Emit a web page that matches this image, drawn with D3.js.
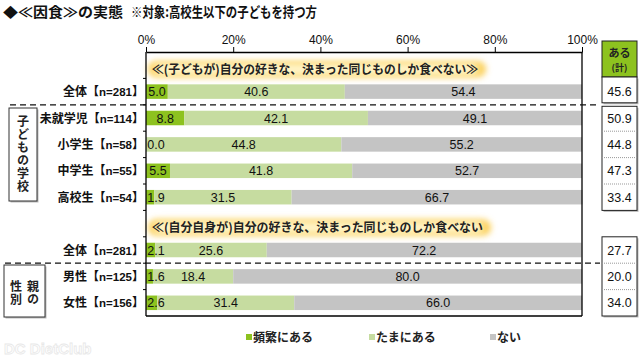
<!DOCTYPE html>
<html><head><meta charset="utf-8">
<script src="https://cdn.jsdelivr.net/npm/d3@7"></script>
<style>
body{margin:0;background:#fff;}
svg{display:block;}
text{font-family:"Liberation Sans","Noto Sans CJK JP",sans-serif;}
.jp{font-family:"Noto Sans CJK JP",sans-serif;}
.vt{writing-mode:vertical-rl;font-family:"Noto Sans CJK JP",sans-serif;}
</style></head>
<body>
<script>
const categories = ["全体","未就学児","小学生","中学生","高校生","全体","男性","女性"];
const sampleSizes = ["n=281","n=114","n=58","n=55","n=54","n=281","n=125","n=156"];
const freq = [5.0, 8.8, 0.0, 5.5, 1.9, 2.1, 1.6, 2.6];
const sometimes = [40.6, 42.1, 44.8, 41.8, 31.5, 25.6, 18.4, 31.4];
const never = [54.4, 49.1, 55.2, 52.7, 66.7, 72.2, 80.0, 66.0];
const aruTotal = [45.6, 50.9, 44.8, 47.3, 33.4, 27.7, 20.0, 34.0];
const seriesNames = ["頻繁にある","たまにある","ない"];
const seriesColors = ["#8dc21f","#c6dca0","#c4c4c4"];
const tickValues = [0,20,40,60,80,100];
const headers = ["≪(子どもが)自分の好きな、決まった同じものしか食べない≫","≪(自分自身が)自分の好きな、決まった同じものしか食べない"];
const rowKeys = ["h0","r0","r1","r2","r3","r4","h1","r5","r6","r7"];
const tableHeader = ["ある","(計)"];

const W=640,H=358;
const svg=d3.select("body").append("svg").attr("width",W).attr("height",H);
const defs=svg.append("defs");
defs.append("filter").attr("id","glow").attr("x","-20%").attr("y","-80%").attr("width","140%").attr("height","260%")
  .append("feGaussianBlur").attr("stdDeviation",3);

const x=d3.scaleLinear().domain([0,100]).range([146,582]);
const y=d3.scaleBand().domain(rowKeys).range([52,316]).paddingInner(0.45).paddingOuter(0.225);
const step=y.step();
const color=d3.scaleOrdinal().domain(seriesNames).range(seriesColors);

// Title
svg.append("text").attr("x",3).attr("y",17).attr("class","jp")
  .attr("font-size",13.5).attr("font-weight","bold").attr("fill","#111")
  .attr("textLength",120).attr("lengthAdjust","spacingAndGlyphs").text("◆≪因食≫の実態");
svg.append("text").attr("x",131).attr("y",17).attr("class","jp")
  .attr("font-size",14).attr("font-weight","bold").attr("fill","#111")
  .attr("textLength",186).attr("lengthAdjust","spacingAndGlyphs").text("※対象:高校生以下の子どもを持つ方");

// Watermark
svg.append("text").attr("x",4).attr("y",354).attr("font-size",15).attr("font-weight","bold")
  .attr("fill","none").attr("stroke","#e8e8e8").attr("stroke-width",0.8).text("DC DietClub");

// Headers with glow
const headerWidths=[326,331];
headers.forEach((h,i)=>{
  const cy=y("h"+i)+y.bandwidth()/2+4;
  const g=svg.append("g");
  g.append("text").attr("class","jp").attr("x",152).attr("y",cy+4.5)
    .attr("font-size",12.5).attr("font-weight","bold").attr("fill","#222")
    .attr("textLength",headerWidths[i]).attr("lengthAdjust","spacingAndGlyphs").text(h);
  const bw=headerWidths[i];
  g.insert("rect","text").attr("x",148).attr("y",cy-8).attr("width",bw+12).attr("height",16)
    .attr("rx",8).attr("fill","#fbcf55").attr("filter","url(#glow)");
  g.insert("rect","text").attr("x",154).attr("y",cy-6).attr("width",bw-2).attr("height",12)
    .attr("rx",6).attr("fill","#fff4c8").attr("filter","url(#glow)");
});

// Data rows
const data=categories.map((c,i)=>({key:"r"+i,cat:c,n:sampleSizes[i],vals:[freq[i],sometimes[i],never[i]],tot:aruTotal[i]}));
const barsG=svg.append("g"), labG=svg.append("g");
data.forEach(d=>{
  let acc=0;
  const by=y(d.key), bh=y.bandwidth();
  d.vals.forEach((v,j)=>{
    const x0=x(acc), x1=x(acc+v);
    barsG.append("rect").attr("x",x0).attr("y",by).attr("width",x1-x0).attr("height",bh)
      .attr("fill",color(seriesNames[j]));
    let tx=(x0+x1)/2;
    if(j===0) tx=Math.max(tx,x0+10);
    labG.append("text").attr("x",tx).attr("y",by+bh/2+4.5).attr("text-anchor","middle")
      .attr("font-size",12.5).attr("fill","#111").text(v.toFixed(1));
    acc+=v;
  });
  const t=labG.append("text").attr("class","jp").attr("x",144).attr("y",by+bh/2+4.5).attr("text-anchor","end")
    .attr("font-size",12).attr("font-weight","bold").attr("fill","#111");
  t.append("tspan").text(d.cat+"【");
  t.append("tspan").attr("font-family","Liberation Sans, sans-serif").attr("font-size",11.5).text(d.n);
  t.append("tspan").text("】");
});

// Axis
const ax=svg.append("g").attr("transform","translate(0,52)")
  .call(d3.axisTop(x).tickValues(tickValues).tickFormat(d=>d+"%").tickSize(5).tickSizeOuter(0).tickPadding(3));
ax.select(".domain").attr("stroke","#000").attr("stroke-width",1.5);
ax.selectAll("text").attr("font-size",12).attr("fill","#111").attr("font-family","Liberation Sans, sans-serif");
// frame
svg.append("line").attr("x1",x(0)).attr("x2",x(0)).attr("y1",52).attr("y2",316).attr("stroke","#000").attr("stroke-width",1.3);
svg.append("line").attr("x1",x(100)).attr("x2",x(100)).attr("y1",52).attr("y2",316).attr("stroke","#000").attr("stroke-width",1.3);
svg.append("line").attr("x1",x(0)).attr("x2",x(100)).attr("y1",316).attr("y2",316).attr("stroke","#000").attr("stroke-width",1.5);
rowKeys.slice(1).forEach(k=>{
  const yy=y(k)-step*0.45/2;
  svg.append("line").attr("x1",x(0)-3).attr("x2",x(0)).attr("y1",yy).attr("y2",yy).attr("stroke","#000");
});

// dashed separators
[["r0","r1",10],["r5","r6",5]].forEach(([a,b,xs])=>{
  const yy=(y(a)+y(b)+y.bandwidth())/2;
  svg.append("line").attr("x1",xs).attr("x2",600).attr("y1",yy).attr("y2",yy)
    .attr("stroke","#111").attr("stroke-width",1.3).attr("stroke-dasharray","6,4");
});

// table
const tx0=602, tx1=637;
const hdr=svg.append("g");
hdr.append("rect").attr("x",tx0).attr("y",41).attr("width",tx1-tx0).attr("height",36).attr("fill","#8dc21f").attr("stroke","#222");
hdr.append("text").attr("class","jp").attr("x",(tx0+tx1)/2).attr("y",57).attr("text-anchor","middle").attr("font-size",11).attr("font-weight","bold").attr("fill","#222").text(tableHeader[0]);
hdr.append("text").attr("class","jp").attr("x",(tx0+tx1)/2).attr("y",71).attr("text-anchor","middle").attr("font-size",9).attr("font-weight","bold").attr("fill","#222").text(tableHeader[1]);

const groups=[[0,0],[1,4],[5,7]];
groups.forEach(([a,b],gi)=>{
  let top=y("r"+a)+y.bandwidth()/2-step/2, bot=y("r"+b)+y.bandwidth()/2+step/2;
  if(gi===0){top=77;bot-=2;}
  if(gi===1){top+=1.5;}
  svg.append("rect").attr("x",tx0+1.5).attr("y",top+1.5).attr("width",tx1-tx0).attr("height",bot-top).attr("fill","#bbb");
  svg.append("rect").attr("x",tx0).attr("y",top).attr("width",tx1-tx0).attr("height",bot-top).attr("fill","#fff").attr("stroke","#222");
  for(let i=a;i<b;i++){
    const yy=y("r"+i)+y.bandwidth()/2+step/2;
    svg.append("line").attr("x1",tx0).attr("x2",tx1).attr("y1",yy).attr("y2",yy).attr("stroke","#999").attr("stroke-dasharray","1,1");
  }
});
data.forEach(d=>{
  svg.append("text").attr("x",(tx0+tx1)/2).attr("y",y(d.key)+y.bandwidth()/2+4.5).attr("text-anchor","middle")
    .attr("font-size",12.5).attr("fill","#111").text(d.tot.toFixed(1));
});

// group labels
function box(x0,y0,w,h){
  svg.append("rect").attr("x",x0+1.5).attr("y",y0+1.5).attr("width",w).attr("height",h).attr("fill","#bbb");
  svg.append("rect").attr("x",x0).attr("y",y0).attr("width",w).attr("height",h).attr("fill","#fff").attr("stroke","#333");
}
box(9,108,28,93);
svg.append("text").attr("class","vt").attr("x",23).attr("y",115)
  .attr("font-size",12).attr("font-weight","bold").attr("letter-spacing",1).attr("fill","#222").text("子どもの学校");
box(4,265,41,52);
[["親の",33],["性別",16]].forEach(([c,xx])=>{
  svg.append("text").attr("class","vt").attr("x",xx).attr("y",280)
    .attr("font-size",12).attr("font-weight","bold").attr("letter-spacing",1).attr("fill","#222").text(c);
});

// legend
const legX=[246,369,490];
seriesNames.forEach((s,i)=>{
  svg.append("rect").attr("x",legX[i]).attr("y",334).attr("width",6).attr("height",6).attr("fill",color(s));
  svg.append("text").attr("class","jp").attr("x",legX[i]+7).attr("y",341.5).attr("font-size",12).attr("font-weight","bold").attr("fill","#222").text(s);
});
</script>
</body></html>
